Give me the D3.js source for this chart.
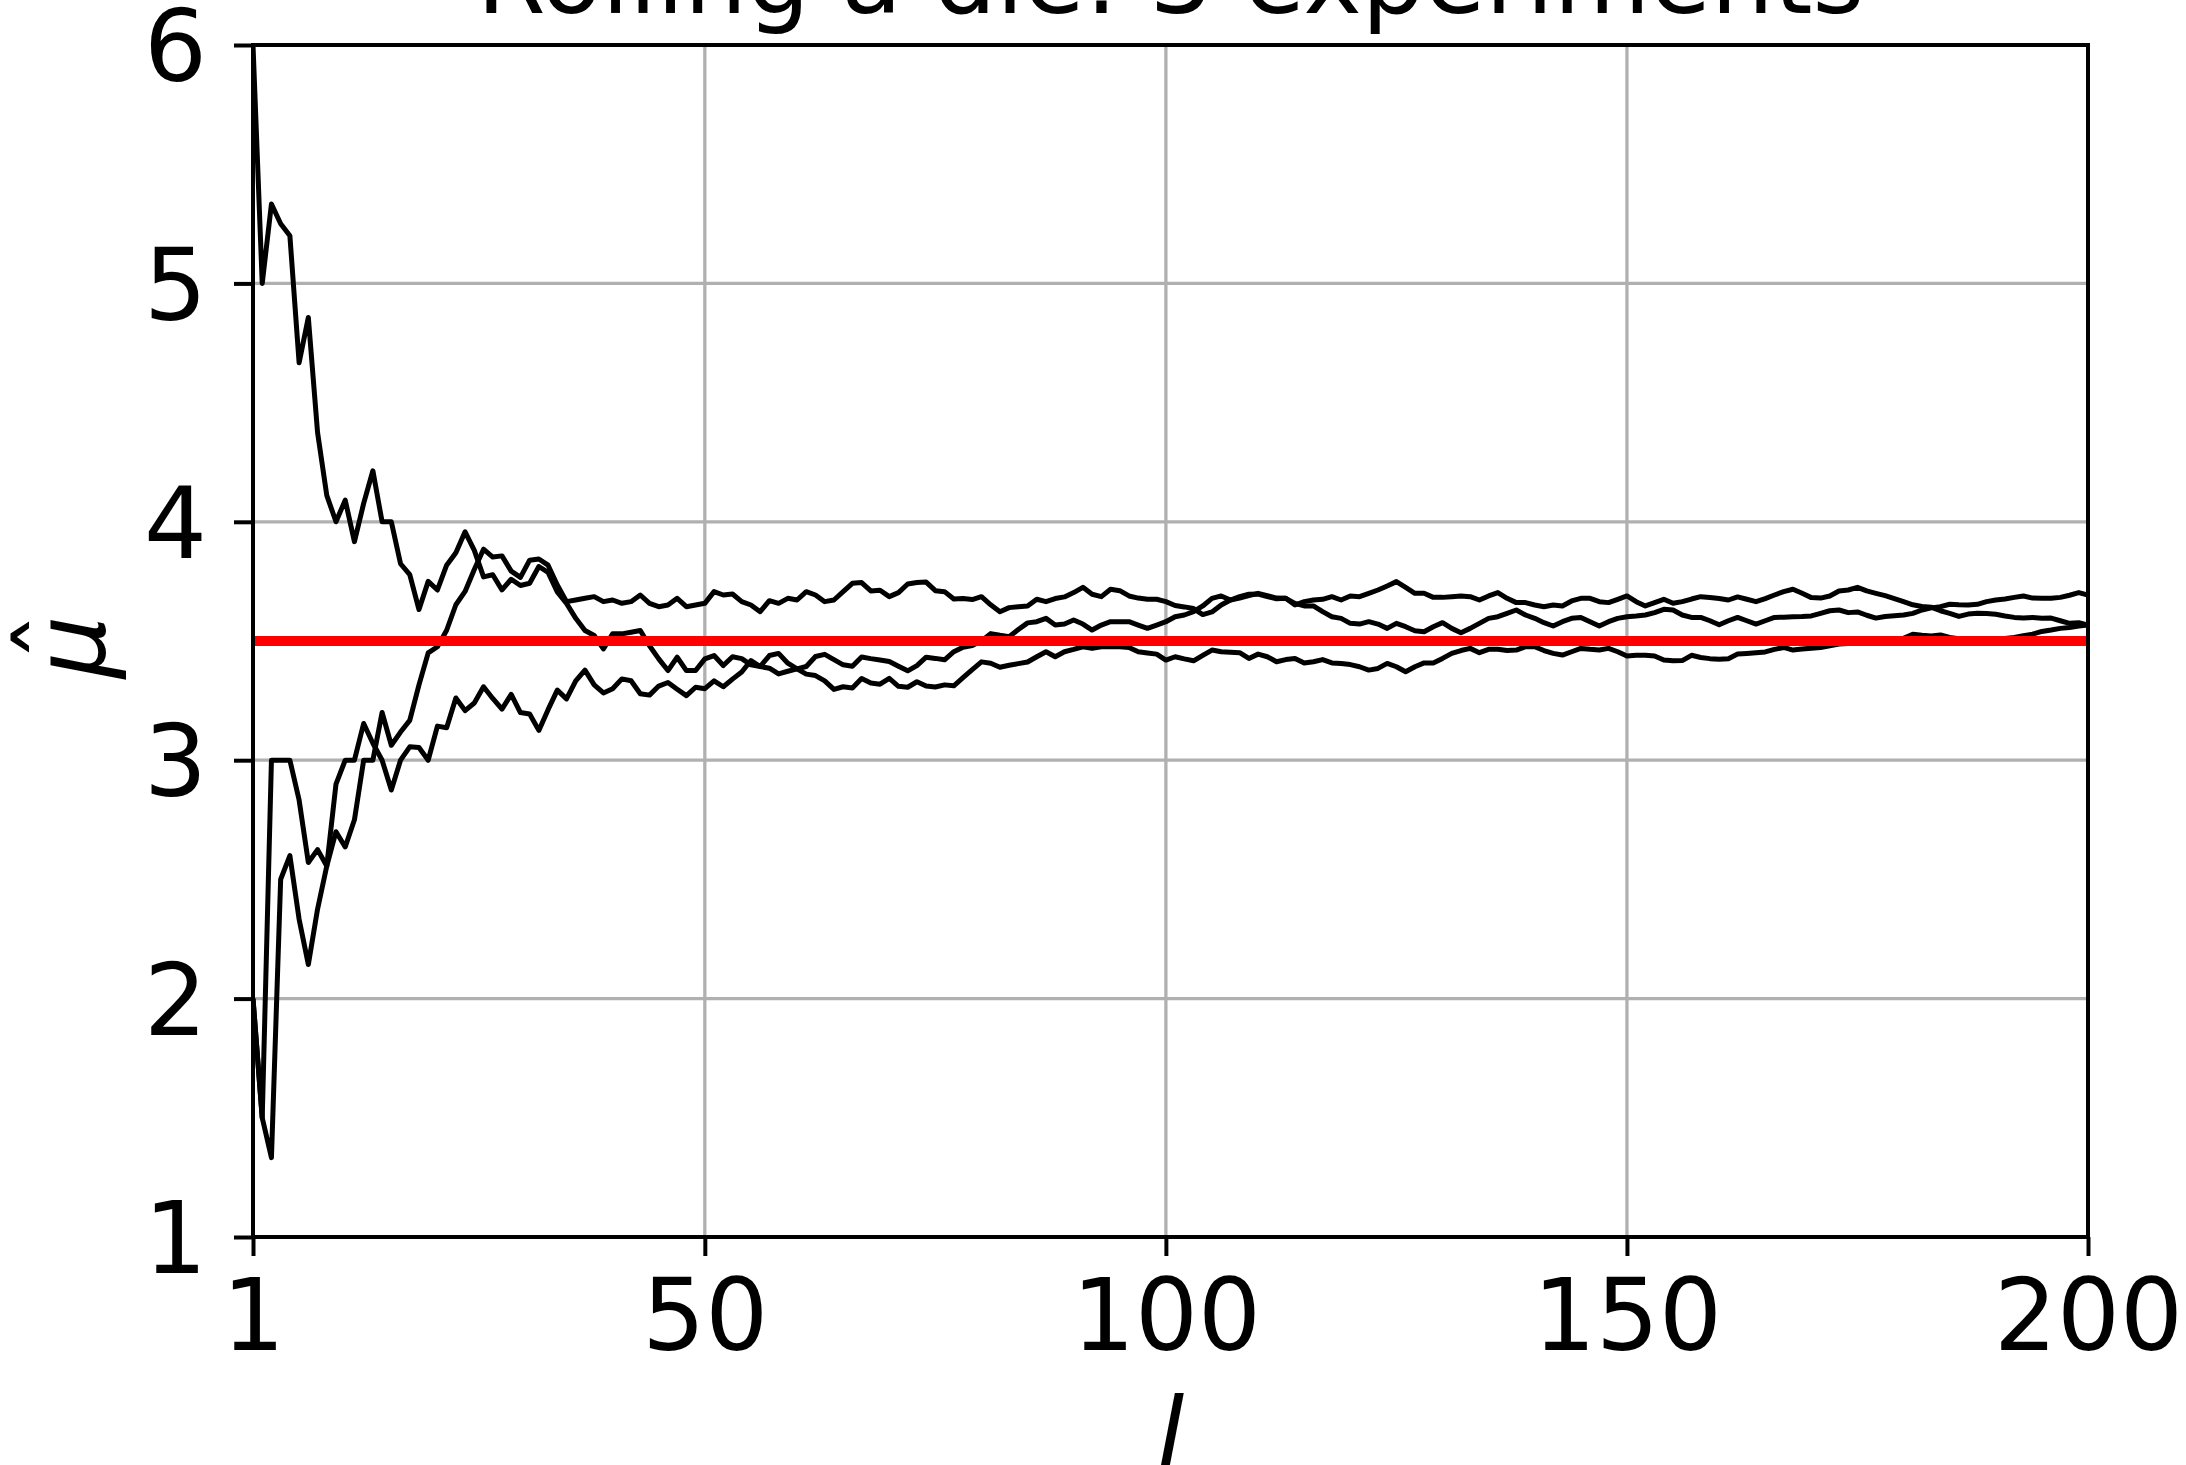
<!DOCTYPE html>
<html>
<head>
<meta charset="utf-8">
<script src="https://cdn.jsdelivr.net/npm/d3@7"></script>
<style>
	body { margin: 0; background: white; overflow: hidden; }
</style>
</head>
<body>
<script>
// chart data
var titleText = "Rolling a die: 3 experiments";
var xTicks = [1, 50, 100, 150, 200];
var yTicks = [1, 2, 3, 4, 5, 6];
var xDomain = [1, 200];
var yDomain = [1, 6];
var trueMean = 3.5;

// running mean after each roll, experiment 1 (starts at 6)
var experiment1 = [
	6, 5, 5.333, 5.25, 5.2, 4.667, 4.857, 4.375, 4.111, 4.0,
	4.091, 3.917, 4.077, 4.214, 4.0, 4.0, 3.824, 3.778, 3.632, 3.75,
	3.714, 3.818, 3.870, 3.958, 3.88, 3.769, 3.778, 3.714, 3.759, 3.733,
	3.742, 3.8125, 3.788, 3.706, 3.658, 3.595, 3.544, 3.523, 3.467, 3.53,
	3.53, 3.537, 3.544, 3.48, 3.425, 3.376, 3.432, 3.376, 3.376, 3.425,
	3.439, 3.397, 3.434, 3.426, 3.4, 3.393, 3.439, 3.448, 3.407, 3.383,
	3.393, 3.435, 3.444, 3.422, 3.4, 3.394, 3.433, 3.426, 3.420, 3.414,
	3.394, 3.375, 3.397, 3.432, 3.427, 3.421, 3.455, 3.474, 3.481, 3.5,
	3.531, 3.524, 3.518, 3.548, 3.576, 3.581, 3.595, 3.567, 3.571, 3.588,
	3.571, 3.546, 3.567, 3.581, 3.581, 3.581, 3.567, 3.553, 3.567, 3.581,
	3.602, 3.609, 3.623, 3.647, 3.679, 3.689, 3.672, 3.68, 3.69, 3.70,
	3.69, 3.68, 3.679, 3.658, 3.647, 3.647, 3.623, 3.602, 3.595, 3.574,
	3.571, 3.581, 3.571, 3.553, 3.574, 3.560, 3.543, 3.539, 3.560, 3.577,
	3.553, 3.535, 3.553, 3.574, 3.595, 3.602, 3.616, 3.630, 3.609, 3.595,
	3.577, 3.563, 3.581, 3.595, 3.599, 3.581, 3.563, 3.581, 3.595, 3.602,
	3.605, 3.609, 3.619, 3.633, 3.630, 3.609, 3.599, 3.599, 3.585, 3.568,
	3.585, 3.599, 3.585, 3.571, 3.585, 3.599, 3.600, 3.602, 3.603, 3.605,
	3.616, 3.627, 3.630, 3.619, 3.622, 3.608, 3.596, 3.603, 3.606, 3.609,
	3.616, 3.630, 3.639, 3.644, 3.654, 3.652, 3.651, 3.654, 3.665, 3.672,
	3.676, 3.683, 3.689, 3.680, 3.679, 3.679, 3.683, 3.692, 3.703, 3.693
];

// experiment 2 (starts at 2, dips to 1.33)
var experiment2 = [
	2, 1.5, 1.333, 2.5, 2.6, 2.333, 2.143, 2.375, 2.556, 2.9,
	3.0, 3.0, 3.154, 3.071, 3.0, 2.875, 3.0, 3.056, 3.053, 3.0,
	3.143, 3.136, 3.261, 3.208, 3.24, 3.308, 3.259, 3.214, 3.276, 3.2,
	3.194, 3.125, 3.212, 3.294, 3.257, 3.333, 3.378, 3.316, 3.282, 3.3,
	3.341, 3.333, 3.279, 3.273, 3.311, 3.326, 3.298, 3.271, 3.306, 3.3,
	3.333, 3.308, 3.34, 3.370, 3.418, 3.393, 3.386, 3.362, 3.373, 3.383,
	3.361, 3.355, 3.333, 3.297, 3.308, 3.303, 3.343, 3.324, 3.319, 3.343,
	3.31, 3.306, 3.329, 3.311, 3.307, 3.316, 3.312, 3.346, 3.380, 3.4125,
	3.407, 3.390, 3.398, 3.405, 3.412, 3.434, 3.455, 3.434, 3.455, 3.465,
	3.476, 3.469, 3.476, 3.476, 3.476, 3.473, 3.455, 3.450, 3.445, 3.420,
	3.434, 3.425, 3.417, 3.440, 3.462, 3.455, 3.453, 3.451, 3.427, 3.445,
	3.434, 3.413, 3.422, 3.427, 3.408, 3.413, 3.422, 3.408, 3.406, 3.401,
	3.392, 3.378, 3.385, 3.406, 3.392, 3.371, 3.392, 3.408, 3.408, 3.427,
	3.448, 3.460, 3.469, 3.451, 3.465, 3.465, 3.460, 3.462, 3.476, 3.476,
	3.460, 3.448, 3.441, 3.455, 3.469, 3.465, 3.462, 3.469, 3.455, 3.437,
	3.440, 3.440, 3.437, 3.420, 3.417, 3.418, 3.440, 3.431, 3.426, 3.423,
	3.426, 3.445, 3.448, 3.451, 3.454, 3.465, 3.473, 3.462, 3.466, 3.470,
	3.473, 3.480, 3.487, 3.490, 3.491, 3.493, 3.494, 3.497, 3.501, 3.511,
	3.528, 3.524, 3.521, 3.525, 3.515, 3.510, 3.504, 3.504, 3.504, 3.505,
	3.511, 3.515, 3.522, 3.529, 3.540, 3.546, 3.553, 3.557, 3.563, 3.567
];

// experiment 3 (starts at 2, jumps to 3)
var experiment3 = [
	2, 1.5, 3, 3, 3, 2.833, 2.571, 2.625, 2.556, 2.7,
	2.636, 2.75, 3.0, 3.0, 3.2, 3.0625, 3.118, 3.167, 3.316, 3.45,
	3.476, 3.545, 3.652, 3.708, 3.8, 3.885, 3.852, 3.857, 3.793, 3.767,
	3.839, 3.844, 3.818, 3.735, 3.665, 3.672, 3.679, 3.686, 3.665, 3.672,
	3.658, 3.665, 3.693, 3.658, 3.644, 3.651, 3.679, 3.644, 3.651, 3.658,
	3.707, 3.693, 3.697, 3.665, 3.651, 3.623, 3.669, 3.658, 3.679, 3.672,
	3.707, 3.693, 3.665, 3.672, 3.707, 3.742, 3.745, 3.710, 3.713, 3.686,
	3.703, 3.739, 3.745, 3.747, 3.711, 3.707, 3.676, 3.678, 3.674, 3.686,
	3.652, 3.623, 3.640, 3.644, 3.647, 3.675, 3.665, 3.678, 3.685, 3.703,
	3.725, 3.696, 3.686, 3.717, 3.711, 3.689, 3.680, 3.675, 3.675, 3.665,
	3.649, 3.643, 3.636, 3.611, 3.622, 3.651, 3.672, 3.686, 3.696, 3.697,
	3.686, 3.677, 3.679, 3.651, 3.665, 3.672, 3.675, 3.686, 3.672, 3.689,
	3.686, 3.700, 3.714, 3.731, 3.749, 3.725, 3.700, 3.700, 3.683, 3.683,
	3.686, 3.689, 3.686, 3.672, 3.689, 3.703, 3.679, 3.661, 3.661, 3.651,
	3.644, 3.651, 3.647, 3.668, 3.679, 3.679, 3.665, 3.661, 3.675, 3.689,
	3.665, 3.647, 3.661, 3.675, 3.658, 3.665, 3.676, 3.686, 3.682, 3.678,
	3.672, 3.685, 3.675, 3.665, 3.678, 3.693, 3.707, 3.717, 3.700, 3.682,
	3.680, 3.689, 3.710, 3.714, 3.725, 3.710, 3.700, 3.690, 3.678, 3.665,
	3.652, 3.645, 3.642, 3.627, 3.616, 3.603, 3.613, 3.616, 3.615, 3.612,
	3.605, 3.599, 3.596, 3.599, 3.595, 3.596, 3.585, 3.574, 3.577, 3.567
];

var experiments = [experiment1, experiment2, experiment3];

var width = 2186;
var height = 1465;
var fontFamily = "'DejaVu Sans', sans-serif";
var fontSize = 99;

var plot = {left: 253, right: 2088, top: 45, bottom: 1237};

var svg = d3.select("body").append("svg")
		.attr("width", width)
		.attr("height", height)
		.style("display", "block")
		.style("background", "white")

var xScale = d3.scaleLinear()
	.domain(xDomain)
	.range([plot.left, plot.right])

var yScale = d3.scaleLinear()
	.domain(yDomain)
	.range([plot.bottom, plot.top])

svg.append("defs").append("clipPath")
		.attr("id", "plotClip")
	.append("rect")
		.attr("x", plot.left)
		.attr("y", plot.top)
		.attr("width", plot.right - plot.left)
		.attr("height", plot.bottom - plot.top)

// grid
var grid = svg.append("g")
		.attr("class", "grid")
		.attr("stroke", "#b0b0b0")
		.attr("stroke-width", 3.3)

grid.selectAll("line.vgrid")
	.data(xTicks)
	.enter().append("line")
		.attr("class", "vgrid")
		.attr("x1", d => xScale(d))
		.attr("x2", d => xScale(d))
		.attr("y1", plot.top)
		.attr("y2", plot.bottom)

grid.selectAll("line.hgrid")
	.data(yTicks)
	.enter().append("line")
		.attr("class", "hgrid")
		.attr("x1", plot.left)
		.attr("x2", plot.right)
		.attr("y1", d => yScale(d))
		.attr("y2", d => yScale(d))

// running means
var meanLine = d3.line()
	.x((d, i) => xScale(i + 1))
	.y(d => yScale(d))

svg.append("g")
		.attr("class", "experiments")
		.attr("clip-path", "url(#plotClip)")
	.selectAll("path")
	.data(experiments)
	.enter().append("path")
		.attr("d", meanLine)
		.attr("fill", "none")
		.attr("stroke", "black")
		.attr("stroke-width", 5)
		.attr("stroke-linejoin", "round")
		.attr("stroke-linecap", "butt")

// expected value
var flatLine = d3.line()
	.x(d => xScale(d))
	.y(() => yScale(trueMean))

svg.append("path")
		.datum(xDomain)
		.attr("class", "trueMean")
		.attr("d", flatLine)
		.attr("fill", "none")
		.attr("stroke", "#ff0000")
		.attr("stroke-width", 10)

// axes
var xAxis = svg.append("g")
	.attr("class", "xAxis")
	.attr("transform", "translate(0," + plot.bottom + ")")
	.call(
		d3.axisBottom(xScale)
			.tickValues(xTicks)
			.tickFormat(d3.format("d"))
			.tickSize(19)
			.tickPadding(24)
	);

var yAxis = svg.append("g")
	.attr("class", "yAxis")
	.attr("transform", "translate(" + plot.left + ",0)")
	.call(
		d3.axisLeft(yScale)
			.tickValues(yTicks)
			.tickFormat(d3.format("d"))
			.tickSize(19)
			.tickPadding(27)
	);

svg.selectAll(".xAxis, .yAxis")
		.attr("font-family", fontFamily)
		.attr("font-size", fontSize)

svg.selectAll(".xAxis .domain, .yAxis .domain").remove();
svg.selectAll(".tick line")
		.attr("stroke", "black")
		.attr("stroke-width", 4)
svg.selectAll(".tick text")
		.attr("fill", "black")
yAxis.selectAll(".tick text")
		.attr("dy", "0.36em")

// spines
svg.append("rect")
		.attr("class", "spines")
		.attr("x", plot.left)
		.attr("y", plot.top)
		.attr("width", plot.right - plot.left)
		.attr("height", plot.bottom - plot.top)
		.attr("fill", "none")
		.attr("stroke", "black")
		.attr("stroke-width", 4)

// title
svg.append("text")
		.attr("class", "title")
		.attr("x", (plot.left + plot.right) / 2)
		.attr("y", 13)
		.attr("text-anchor", "middle")
		.attr("font-family", fontFamily)
		.attr("font-size", fontSize)
		.text(titleText)

// x label
svg.append("text")
		.attr("class", "xLabel")
		.attr("x", (plot.left + plot.right) / 2)
		.attr("y", 1469)
		.attr("text-anchor", "middle")
		.attr("font-family", fontFamily)
		.attr("font-style", "italic")
		.attr("font-size", fontSize)
		.text("l")

// y label: mu with a hat, turned
var yLabel = svg.append("g")
		.attr("class", "yLabel")
		.attr("transform", "translate(105," + ((plot.top + plot.bottom) / 2) + ") rotate(-90)")
		.attr("font-family", fontFamily)
		.attr("font-size", fontSize)

yLabel.append("text")
		.attr("x", -6)
		.attr("y", 0)
		.attr("text-anchor", "middle")
		.attr("font-style", "italic")
		.text("μ")

yLabel.append("text")
		.attr("x", 4)
		.attr("y", -14)
		.attr("text-anchor", "middle")
		.text("ˆ")
</script>
</body>
</html>
